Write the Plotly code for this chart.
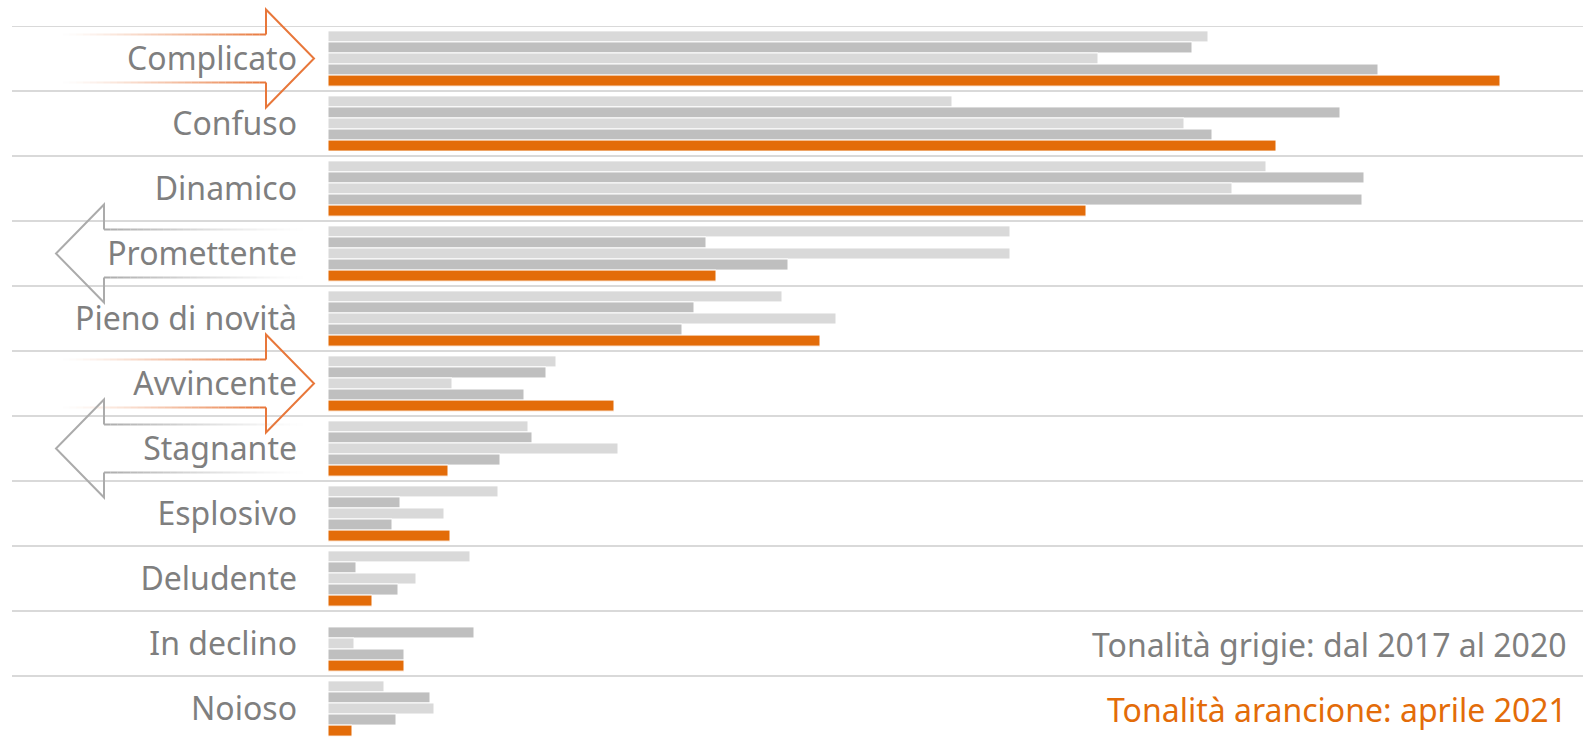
import plotly.graph_objects as go

# Aggettivi associati al mercato, quote per anno (%)
categories = ["Complicato", "Confuso", "Dinamico", "Promettente", "Pieno di novità",
              "Avvincente", "Stagnante", "Esplosivo", "Deludente", "In declino", "Noioso"]
v2017 = [44.0, 31.2, 46.9, 34.1, 22.7, 11.4, 10.0, 8.5, 7.1, None, 2.8]
v2018 = [43.2, 50.6, 51.8, 18.9, 18.3, 10.9, 10.2, 3.6, 1.4, 7.3, 5.1]
v2019 = [38.5, 42.8, 45.2, 34.1, 25.4, 6.2, 14.5, 5.8, 4.4, 1.3, 5.3]
v2020 = [52.5, 44.2, 51.7, 23.0, 17.7, 9.8, 8.6, 3.2, 3.5, 3.8, 3.4]
v2021 = [58.6, 47.4, 37.9, 19.4, 24.6, 14.3, 6.0, 6.1, 2.2, 3.8, 1.2]

series_names = ["2017", "2018", "2019", "2020", "aprile 2021"]
series_values = [v2017, v2018, v2019, v2020, v2021]

LIGHT = "#D9D9D9"
DARK = "#BFBFBF"
ORANGE = "#E36C09"
series_colors = [LIGHT, DARK, LIGHT, DARK, ORANGE]

ARROW_ORANGE = "#E8773A"
ARROW_GREY = "#ABABAB"
TEXT_GREY = "#7F7F7F"
FONT = "Noto Sans"
FONT_SIZE = 32

W, H = 1583, 739
LEFT, TOP = 328, 26
ROW = 65.0
PLOT_W = W - LEFT
PLOT_H = H - TOP

fig = go.Figure()
for name, vals, col in zip(series_names, series_values, series_colors):
    fig.add_trace(go.Bar(
        y=categories, x=vals, name=name, orientation="h",
        marker=dict(color=col, line=dict(color="white", width=1)),
        hoverinfo="x+name",
    ))


def px(xpix):
    """Horizontal pixel position -> paper coordinate."""
    return (xpix - LEFT) / PLOT_W


def py(ypix):
    """Vertical pixel position (from the top) -> paper coordinate."""
    return (H - ypix) / PLOT_H


def row_center(idx):
    return TOP + ROW * (idx + 0.5)


shapes = []

# separators between categories
for k in range(len(categories) + 1):
    shapes.append(dict(type="line", xref="paper", yref="y",
                       x0=px(12), x1=1, y0=k - 0.5, y1=k - 0.5,
                       line=dict(color="#D9D9D9", width=2), layer="below"))


def add_arrow(idx, direction, color):
    yc = row_center(idx)
    if direction == "right":
        tip, base, tail = 314, 266, 63
    else:
        tip, base, tail = 56, 104, 303
    top_s, bot_s = py(yc - 24), py(yc + 24)
    top_h, bot_h = py(yc - 49), py(yc + 49)
    mid = py(yc)
    path = (f"M {px(base)},{top_s} L {px(base)},{top_h} L {px(tip)},{mid} "
            f"L {px(base)},{bot_h} L {px(base)},{bot_s}")
    shapes.append(dict(type="path", xref="paper", yref="paper", path=path,
                       line=dict(color=color, width=2)))
    # shaft edges fade out towards the tail
    n = 30
    for i in range(n):
        a = tail + (base - tail) * i / n
        b = tail + (base - tail) * (i + 1) / n
        op = ((i + 0.5) / n) ** 1.3
        for yy in (top_s, bot_s):
            shapes.append(dict(type="line", xref="paper", yref="paper",
                               x0=px(a), x1=px(b), y0=yy, y1=yy,
                               opacity=op, line=dict(color=color, width=2)))


add_arrow(categories.index("Complicato"), "right", ARROW_ORANGE)
add_arrow(categories.index("Avvincente"), "right", ARROW_ORANGE)
add_arrow(categories.index("Promettente"), "left", ARROW_GREY)
add_arrow(categories.index("Stagnante"), "left", ARROW_GREY)

annotations = [
    dict(xref="paper", yref="paper", x=px(1569), y=py(644),
         xanchor="right", yanchor="middle", showarrow=False,
         text="Tonalità grigie: dal 2017 al 2020",
         font=dict(family=FONT, size=FONT_SIZE, color=TEXT_GREY)),
    dict(xref="paper", yref="paper", x=px(1569), y=py(709),
         xanchor="right", yanchor="middle", showarrow=False,
         text="Tonalità arancione: aprile 2021",
         font=dict(family=FONT, size=FONT_SIZE, color=ORANGE)),
]

fig.update_layout(
    width=W, height=H,
    margin=dict(l=LEFT, r=0, t=TOP, b=0, pad=0),
    paper_bgcolor="white", plot_bgcolor="white",
    barmode="group", bargap=0.15, bargroupgap=0,
    showlegend=False,
    shapes=shapes, annotations=annotations,
    xaxis=dict(range=[0, PLOT_W / 20.0], visible=False, fixedrange=True),
    yaxis=dict(
        type="category", categoryorder="array", categoryarray=categories,
        range=[-0.5 + PLOT_H / ROW, -0.5],
        showgrid=False, zeroline=False, showline=False, ticks="",
        ticklabelstandoff=30,
        tickfont=dict(family=FONT, size=FONT_SIZE, color=TEXT_GREY),
        fixedrange=True,
    ),
)

fig.write_html("out.html")
